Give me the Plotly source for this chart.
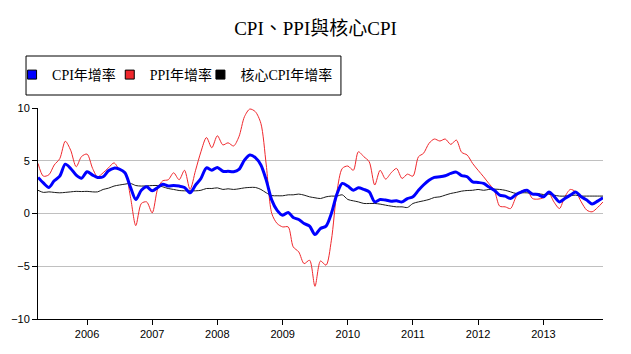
import pandas as pd
import plotly.graph_objects as go

months = pd.date_range("2005-04-01", "2013-12-01", freq="MS")

cpi = [3.42, 2.9, 2.47, 3.1, 3.54, 4.68, 4.27, 3.64, 3.35, 3.96, 3.64, 3.42,
       3.48, 4.05, 4.3, 4.2, 3.86, 2.5, 1.33, 2.2, 2.53, 2.15, 2.47, 2.78,
       2.6, 2.65, 2.6, 2.47, 1.96, 2.7, 3.32, 4.33, 4.1, 4.37, 4.0, 4.0,
       3.96, 4.18, 5.06, 5.54, 5.3, 4.6, 3.16, 1.27, 0.3, -0.16, 0.1, -0.38,
       -0.57, -0.95, -1.2, -2.0, -1.42, -1.2, 0.0, 1.84, 2.85, 2.6, 2.2, 2.43,
       2.28, 2.05, 1.1, 1.33, 1.27, 1.17, 1.2, 1.1, 1.42, 1.58, 2.2, 2.7,
       3.16, 3.42, 3.48, 3.58, 3.8, 3.92, 3.6, 3.48, 3.0, 2.94, 2.85, 2.53,
       2.2, 1.74, 1.65, 1.42, 1.8, 2.05, 2.2, 1.84, 1.8, 1.58, 2.03, 1.65,
       1.1, 1.42, 1.74, 2.03, 1.58, 1.27, 0.89, 1.17, 1.49]

ppi = [4.75, 3.54, 3.67, 4.6, 5.2, 6.85, 6.0, 4.43, 5.4, 5.63, 4.27, 3.48,
       3.86, 4.33, 4.8, 4.18, 3.96, 1.58, -1.15, 0.95, 1.1, 0.06, 2.37, 3.1,
       3.2, 3.86, 3.2, 4.1, 2.28, 4.1, 5.85, 7.2, 6.23, 7.37, 6.5, 6.7,
       6.4, 7.28, 9.18, 9.9, 9.65, 8.54, 4.6, 0.0, -0.95, -1.27, -1.27, -3.16,
       -3.64, -4.75, -4.43, -6.9, -4.5, -4.9, -2.53, 2.05, 4.27, 4.5, 4.1, 5.85,
       5.38, 4.9, 2.7, 4.1, 3.26, 3.86, 4.27, 3.32, 3.73, 3.54, 5.38, 5.7,
       6.65, 7.06, 6.87, 7.06, 6.55, 6.96, 5.8, 5.54, 4.75, 4.1, 3.48, 2.85,
       2.2, 0.7, 0.63, 0.47, 1.58, 2.15, 2.2, 1.42, 1.36, 1.49, 1.9, 1.1,
       0.47, 1.58, 2.28, 2.05, 1.1, 0.32, 0.16, 0.57, 1.1]

core = [2.2, 2.0, 2.05, 2.0, 1.96, 2.0, 2.05, 2.1, 2.08, 2.1, 2.05, 2.05,
        2.28, 2.4, 2.6, 2.7, 2.78, 2.85, 2.65, 2.6, 2.62, 2.65, 2.65, 2.53,
        2.37, 2.28, 2.18, 2.15, 2.15, 2.15, 2.2, 2.37, 2.37, 2.43, 2.28, 2.34,
        2.28, 2.34, 2.43, 2.47, 2.47, 2.28, 1.96, 1.7, 1.68, 1.68, 1.77, 1.77,
        1.84, 1.74, 1.58, 1.49, 1.42, 1.58, 1.65, 1.65, 1.77, 1.33, 1.2, 1.1,
        0.95, 0.95, 0.95, 0.89, 0.79, 0.7, 0.63, 0.63, 0.57, 0.95, 1.1, 1.2,
        1.33, 1.52, 1.58, 1.74, 1.9, 2.0, 2.12, 2.18, 2.2, 2.28, 2.2, 2.28,
        2.31, 2.28, 2.2, 2.05, 1.9, 1.96, 1.96, 1.9, 1.9, 1.8, 1.84, 1.74,
        1.65, 1.65, 1.7, 1.74, 1.65, 1.65, 1.65, 1.65, 1.65]

names = ["CPI年增率", "PPI年增率", "核心CPI年增率"]
colors = ["#0000ff", "#f0282d", "#000000"]
legend_ids = ["legend", "legend2", "legend3"]
legend_x = [-0.0459, 0.1270, 0.2875]

fig = go.Figure()
# data lines (drawn red, core, then blue on top)
fig.add_trace(go.Scatter(x=months, y=ppi, mode="lines", showlegend=False,
                         line=dict(color=colors[1], width=1, shape="spline", smoothing=0.8)))
fig.add_trace(go.Scatter(x=months, y=core, mode="lines", showlegend=False,
                         line=dict(color="#1a1a1a", width=1, shape="spline", smoothing=0.8)))
fig.add_trace(go.Scatter(x=months, y=cpi, mode="lines", showlegend=False,
                         line=dict(color=colors[0], width=3, shape="spline", smoothing=0.8)))
# legend entries with square swatches
for n, c, lid in zip(names, colors, legend_ids):
    fig.add_trace(go.Scatter(x=[None], y=[None], mode="markers", name=n, legend=lid,
                             marker=dict(symbol="square", size=9, color=c,
                                         line=dict(color="black", width=1))))

serif = "Liberation Serif, Noto Sans CJK TC, serif"
legend_style = dict(orientation="h", xanchor="left", y=1.2322, yanchor="top",
                    borderwidth=0, bgcolor="rgba(0,0,0,0)",
                    font=dict(family=serif, size=14, color="black"), itemwidth=30)

fig.update_layout(
    width=631, height=354,
    margin=dict(l=36, r=28, t=108, b=35),
    paper_bgcolor="white", plot_bgcolor="white",
    title=dict(text="CPI、PPI與核心CPI", x=0.5, xanchor="center", y=0.92, yanchor="middle",
               font=dict(family=serif, size=19, color="black")),
    legend=dict(x=legend_x[0], **legend_style),
    legend2=dict(x=legend_x[1], **legend_style),
    legend3=dict(x=legend_x[2], **legend_style),
    shapes=[dict(type="rect", xref="paper", yref="paper",
                 x0=-0.0212, x1=0.5362, y0=1.0616, y1=1.2464,
                 line=dict(color="black", width=1), fillcolor="rgba(0,0,0,0)", layer="below")],
    xaxis=dict(range=[months[0], months[-1]], tickformat="%Y", dtick="M12",
               tick0="2006-01-01", ticks="outside", ticklen=5, tickcolor="black",
               showline=True, linecolor="black", linewidth=1, showgrid=False,
               zeroline=False, tickfont=dict(family="Liberation Sans, Arial", size=11, color="black")),
    yaxis=dict(range=[-10, 10], dtick=5, ticks="outside", ticklen=5, tickcolor="black",
               showline=True, linecolor="black", linewidth=1, showgrid=True,
               gridcolor="#c0c0c0", gridwidth=1, zeroline=False,
               tickfont=dict(family="Liberation Sans, Arial", size=11, color="black")),
)

fig.write_html("out.html")
